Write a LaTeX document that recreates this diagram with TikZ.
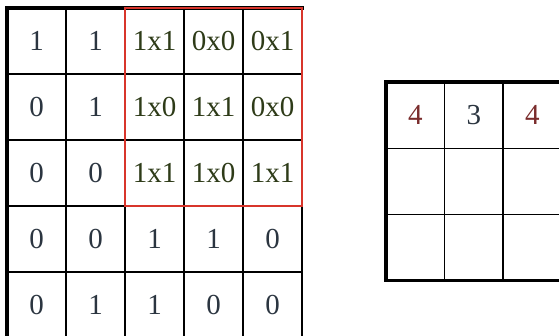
\documentclass[tikz,border=0pt]{standalone}
\usepackage{fontspec}
\setmainfont{Liberation Serif}
\usepackage{tikz}

\definecolor{numgray}{HTML}{2B3540}
\definecolor{prodgreen}{HTML}{2E3B18}
\definecolor{outred}{HTML}{7A2C2C}
\definecolor{boxred}{HTML}{D8352B}

\tikzset{
  incell/.style={draw=black, line width=1.3pt, minimum width=59pt, minimum height=66pt,
    inner sep=0pt, outer sep=0pt, font=\fontsize{29}{29}\selectfont, text=numgray},
  outcell/.style={draw=black, line width=1.3pt, minimum width=58.5pt, minimum height=66.3pt,
    inner sep=0pt, outer sep=0pt, font=\fontsize{29}{29}\selectfont},
  prod/.style={text=prodgreen},
  rim/.style={draw=black, line width=3.2pt, line cap=rect},
}

\begin{document}
\begin{tikzpicture}[x=1pt, y=-1pt]
  \useasboundingbox (0,0) rectangle (559,336);
  \fill[white] (0,0) rectangle (559,336);
  \clip (0,0) rectangle (559,336);

  % input image
  \node[incell] (a-1-1) at (36.5,41) {1};
  \node[incell] (a-1-2) at (95.5,41) {1};
  \node[incell, prod] (a-1-3) at (154.5,41) {1x1};
  \node[incell, prod] (a-1-4) at (213.5,41) {0x0};
  \node[incell, prod] (a-1-5) at (272.5,41) {0x1};
  \node[incell] (a-2-1) at (36.5,107) {0};
  \node[incell] (a-2-2) at (95.5,107) {1};
  \node[incell, prod] (a-2-3) at (154.5,107) {1x0};
  \node[incell, prod] (a-2-4) at (213.5,107) {1x1};
  \node[incell, prod] (a-2-5) at (272.5,107) {0x0};
  \node[incell] (a-3-1) at (36.5,173) {0};
  \node[incell] (a-3-2) at (95.5,173) {0};
  \node[incell, prod] (a-3-3) at (154.5,173) {1x1};
  \node[incell, prod] (a-3-4) at (213.5,173) {1x0};
  \node[incell, prod] (a-3-5) at (272.5,173) {1x1};
  \node[incell] (a-4-1) at (36.5,239) {0};
  \node[incell] (a-4-2) at (95.5,239) {0};
  \node[incell] (a-4-3) at (154.5,239) {1};
  \node[incell] (a-4-4) at (213.5,239) {1};
  \node[incell] (a-4-5) at (272.5,239) {0};
  \node[incell] (a-5-1) at (36.5,305) {0};
  \node[incell] (a-5-2) at (95.5,305) {1};
  \node[incell] (a-5-3) at (154.5,305) {1};
  \node[incell] (a-5-4) at (213.5,305) {0};
  \node[incell] (a-5-5) at (272.5,305) {0};
  \draw[rim] (a-5-1.south west) -- (a-1-1.north west) -- (a-1-5.north east);

  % kernel window
  \draw[boxred, line width=2.8pt] (a-1-3.north west) rectangle (a-3-5.south east);

  % feature map
  \foreach \r in {1,2,3} {
    \foreach \c in {1,2,3} {
      \node[outcell] (b-\r-\c) at ({386+58.5*(\c-0.5)},{82+66.3*(\r-0.5)}) {};
    }
  }
  \node[text=outred, font=\fontsize{29}{29}\selectfont] (v-1) at (b-1-1) {4};
  \node[text=numgray, font=\fontsize{29}{29}\selectfont] (v-2) at (b-1-2) {3};
  \node[text=outred, font=\fontsize{29}{29}\selectfont] (v-3) at (b-1-3) {4};
  \draw[rim] (b-1-3.north east) -- (b-1-1.north west) -- (b-3-1.south west) -- (b-3-3.south east);
\end{tikzpicture}
\end{document}
